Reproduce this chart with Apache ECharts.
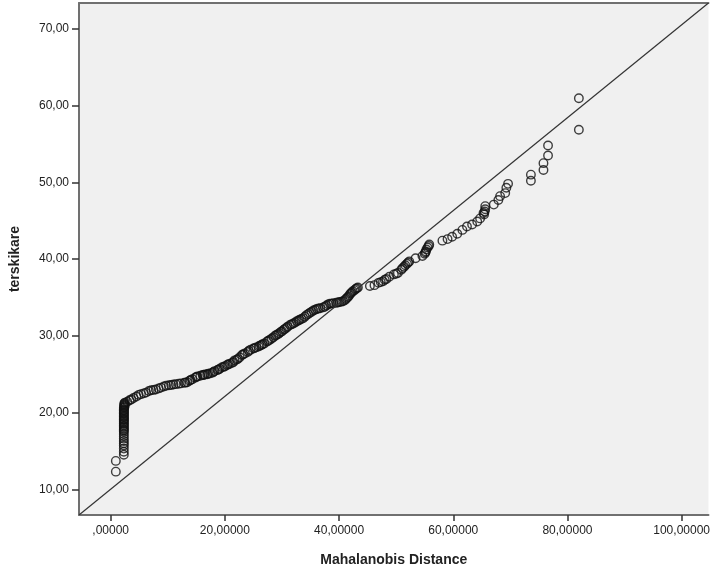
<!DOCTYPE html>
<html>
<head>
<meta charset="utf-8">
<script src="https://cdn.jsdelivr.net/npm/echarts@6/dist/echarts.min.js"></script>
<style>
  html, body { margin: 0; padding: 0; background: #fff; }
  #chart { width: 713px; height: 572px; }
</style>
</head>
<body>
<div id="chart"></div>
<script>
// Mahalanobis distance (x) and terskikare (y)
const distance = [
  0.9, 0.9,
  2.3, 2.3, 2.3, 2.3, 2.3, 2.3, 2.3, 2.3, 2.3, 2.3, 2.3, 2.3, 2.3, 2.3,
  2.3, 2.3, 2.3, 2.3, 2.3, 2.3, 2.3, 2.3, 2.3, 2.3, 2.4, 2.4, 2.4, 2.5,
  2.9, 3.3, 3.6, 4.0, 4.5, 4.9, 5.3, 5.8, 6.2, 6.7, 7.1, 7.5, 7.9, 8.4,
  8.8, 9.3, 9.7, 10.2, 10.6, 11.0, 11.4, 11.9, 12.3, 12.9, 13.4, 13.8,
  14.3, 14.8, 15.2, 15.7, 16.1, 16.5, 16.9, 17.4, 17.8, 18.2, 18.7, 19.1,
  19.5, 20.0, 20.4, 20.9, 21.3, 21.7, 22.1, 22.6, 23.0, 23.5, 24.0, 24.5,
  25.0, 25.5, 25.9, 26.4, 26.9, 27.4, 27.9, 28.5, 29.0, 29.5, 30.0, 30.5,
  31.0, 31.4, 32.0, 32.6, 33.1, 33.7, 34.3, 34.9, 35.5, 36.1, 36.7, 37.2,
  37.8, 38.4, 39.0, 39.5, 40.1, 40.7, 41.2, 41.6, 42.0, 42.4, 42.9, 43.3,
  45.4, 46.2, 46.9, 47.7, 48.3, 48.8, 49.6, 50.3, 50.9, 51.4, 51.9, 52.3,
  53.4, 54.6, 55.0, 55.2, 55.5, 55.8,
  58.1, 59.0, 59.8, 60.7, 61.6, 62.4, 63.3, 64.2, 64.7, 65.3, 65.6, 65.6,
  67.1, 67.9, 68.2, 69.1, 69.3, 69.6,
  73.6, 73.6, 75.8, 75.8, 76.6, 76.6, 82.0, 82.0,
  // overlapping cases in the dense parts
  2.3, 2.3, 2.3, 2.3, 2.3, 2.3, 2.3, 2.4, 2.4, 2.4,
  13.1, 14.0, 15.0, 16.3, 17.1, 18.0, 18.9, 19.8, 20.6, 21.5, 22.3, 23.2,
  24.2, 25.2, 26.1, 26.6, 27.6, 28.2, 28.8, 29.3, 29.8, 30.3, 30.8, 31.7,
  32.3, 32.9, 33.4, 34.0, 34.6, 35.2, 35.8, 36.4, 37.5, 38.1, 38.7, 39.8,
  40.4, 41.0, 41.4, 41.8, 42.2, 42.7, 43.1,
  47.3, 48.0, 50.0, 51.1, 51.6, 52.1, 55.1, 55.3, 55.7, 65.4, 65.5
];
const terskikare = [
  12.3, 13.7,
  14.5, 14.9, 15.3, 15.7, 16.0, 16.3, 16.6, 16.9, 17.2, 17.5, 17.8, 18.0,
  18.3, 18.5, 18.8, 19.0, 19.2, 19.4, 19.6, 19.8, 20.0, 20.2, 20.4, 20.6,
  20.8, 21.0, 21.1, 21.3,
  21.4, 21.6, 21.7, 21.9, 22.1, 22.3, 22.4, 22.5, 22.6, 22.8, 22.9, 22.95,
  23.0, 23.15, 23.25, 23.4, 23.5, 23.55, 23.6, 23.65, 23.7, 23.75, 23.8,
  23.9, 23.95, 24.15, 24.35, 24.55, 24.7, 24.8, 24.9, 24.95, 25.0, 25.1,
  25.2, 25.4, 25.55, 25.7, 25.9, 26.05, 26.2, 26.35, 26.5, 26.8, 26.9,
  27.2, 27.5, 27.7, 27.9, 28.2, 28.35, 28.5, 28.6, 28.8, 29.0, 29.25,
  29.5, 29.8, 30.1, 30.35, 30.6, 30.9, 31.2, 31.4, 31.6, 31.9, 32.1,
  32.3, 32.7, 33.0, 33.3, 33.5, 33.6, 33.7, 33.95, 34.2, 34.25, 34.3,
  34.4, 34.5, 34.8, 35.1, 35.5, 35.8, 36.1, 36.3,
  36.5, 36.6, 36.9, 37.1, 37.4, 37.7, 38.0, 38.2, 38.6, 39.0, 39.4, 39.7,
  40.1, 40.4, 40.7, 41.0, 41.5, 41.9,
  42.4, 42.6, 42.9, 43.3, 43.8, 44.25, 44.5, 44.9, 45.3, 46.0, 46.5, 46.9,
  47.1, 47.7, 48.2, 48.6, 49.3, 49.8,
  50.2, 51.0, 51.6, 52.5, 53.5, 54.8, 56.85, 60.95,
  // overlapping cases in the dense parts
  17.65, 18.15, 18.65, 19.1, 19.5, 19.9, 20.3, 20.7, 20.9, 21.2,
  23.9, 24.25, 24.65, 24.9, 25.05, 25.3, 25.6, 25.95, 26.3, 26.6, 27.0, 27.6,
  28.05, 28.4, 28.7, 28.9, 29.35, 29.65, 30.0, 30.2, 30.5, 30.8, 31.05, 31.5,
  31.75, 32.0, 32.2, 32.5, 32.85, 33.15, 33.4, 33.55, 33.8, 34.1, 34.2, 34.35,
  34.45, 34.65, 34.95, 35.3, 35.65, 35.95, 36.2,
  37.0, 37.3, 38.1, 38.8, 39.2, 39.55, 40.85, 41.25, 41.7, 45.8, 46.2
];

const xTicks = [0, 20, 40, 60, 80, 100];
const xTickLabels = [',00000', '20,00000', '40,00000', '60,00000', '80,00000', '100,00000'];
const yTicks = [10, 20, 30, 40, 50, 60, 70];
const yTickLabels = ['10,00', '20,00', '30,00', '40,00', '50,00', '60,00', '70,00'];

const xMin = -5.55, xMax = 104.7;
const yMin = 6.65, yMax = 73.37;

const points = distance.map((d, i) => [d, terskikare[i]]);
const axisColor = '#707070';
const font = 'Liberation Sans, Arial, sans-serif';

const chart = echarts.init(document.getElementById('chart'));

chart.setOption({
  animation: false,
  backgroundColor: '#fff',
  grid: {
    left: 79, right: 0, top: 3, bottom: 57,
    show: true, backgroundColor: '#f0f0f0', borderWidth: 0
  },
  xAxis: [{
    type: 'value',
    min: xMin, max: xMax,
    name: 'Mahalanobis Distance',
    nameLocation: 'middle',
    nameGap: 38,
    nameTextStyle: { fontFamily: font, fontSize: 14, fontWeight: 'bold', color: '#222' },
    axisLine: { show: true, onZero: false, lineStyle: { color: axisColor, width: 2 } },
    axisTick: { show: true, length: 6, customValues: xTicks, lineStyle: { color: '#333', width: 1.5 } },
    axisLabel: {
      customValues: xTicks, margin: 10,
      fontFamily: font, fontSize: 12, color: '#222',
      formatter: v => xTickLabels[xTicks.indexOf(v)]
    },
    splitLine: { show: false }
  }, {
    type: 'value',
    position: 'top',
    min: xMin, max: xMax,
    axisLine: { show: true, onZero: false, lineStyle: { color: axisColor, width: 2 } },
    axisTick: { show: false },
    axisLabel: { show: false },
    splitLine: { show: false }
  }],
  yAxis: {
    type: 'value',
    min: yMin, max: yMax,
    name: 'terskikare',
    nameLocation: 'middle',
    nameGap: 57,
    nameTextStyle: { fontFamily: font, fontSize: 14, fontWeight: 'bold', color: '#222' },
    axisLine: { show: true, onZero: false, lineStyle: { color: axisColor, width: 2 } },
    axisTick: { show: true, length: 7, customValues: yTicks, lineStyle: { color: '#333', width: 1.5 } },
    axisLabel: {
      customValues: yTicks, margin: 10,
      fontFamily: font, fontSize: 12, color: '#222',
      formatter: v => yTickLabels[yTicks.indexOf(v)]
    },
    splitLine: { show: false }
  },
  series: [{
    type: 'line',
    data: [[xMin, yMin], [xMax, yMax]],
    symbol: 'none',
    lineStyle: { color: '#333', width: 1.2 },
    silent: true
  }, {
    type: 'scatter',
    data: points,
    symbol: 'circle',
    symbolSize: 8.5,
    itemStyle: { color: 'transparent', borderColor: '#111', borderWidth: 1.4 }
  }]
});

window.addEventListener('resize', function () {
  chart.resize();
});
</script>
</body>
</html>
